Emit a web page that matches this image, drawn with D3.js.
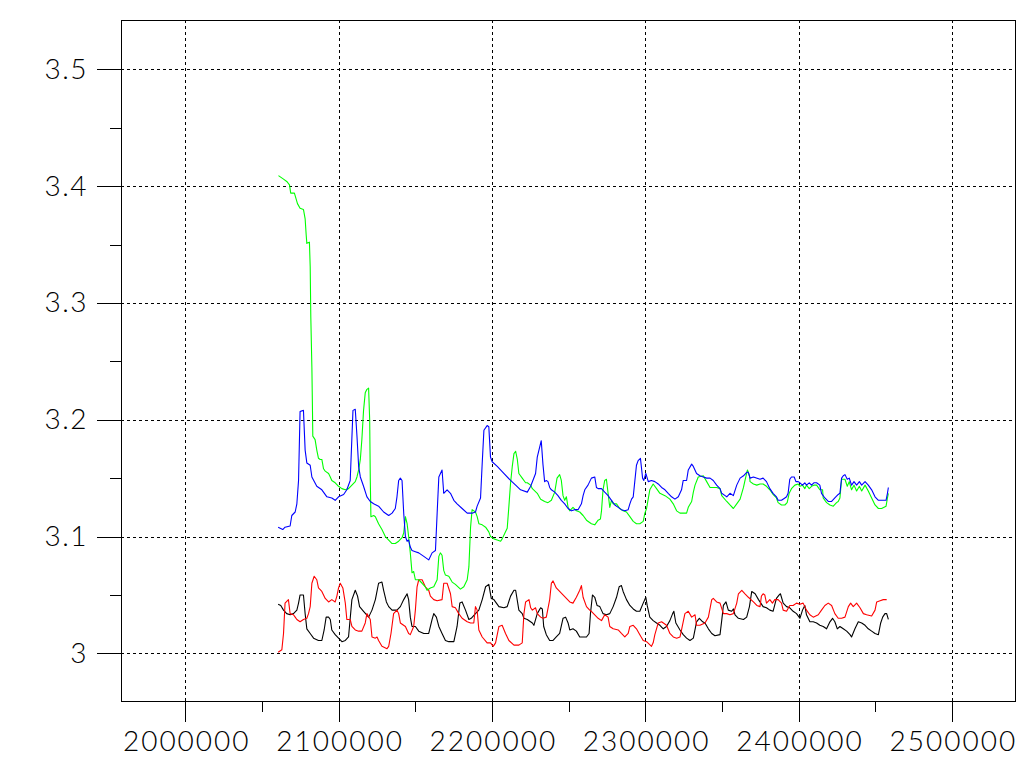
<!DOCTYPE html>
<html>
<head>
<meta charset="utf-8">
<script src="https://cdn.jsdelivr.net/npm/d3@7"></script>
<style>
  html, body { margin: 0; padding: 0; background: #ffffff; }
  svg { display: block; }
  .lbl { font-family: "Lato", "DejaVu Sans", sans-serif; font-weight: 300; font-size: 28px; fill: #000; }
</style>
</head>
<body>
<svg id="chart" width="1035" height="775"></svg>
<script>
// ---------- data ----------
const xMajorTicks = [2000000, 2100000, 2200000, 2300000, 2400000, 2500000];
const xMinorTicks = [2050000, 2150000, 2250000, 2350000, 2450000];
const yMajorTicks = [3.0, 3.1, 3.2, 3.3, 3.4, 3.5];
const yMinorTicks = [3.05, 3.15, 3.25, 3.35, 3.45];
const xTickLabels = ["2000000", "2100000", "2200000", "2300000", "2400000", "2500000"];
const yTickLabels = ["3", "3.1", "3.2", "3.3", "3.4", "3.5"];

const greenData = [
[2060800,3.409],[2064100,3.406],[2066200,3.404],[2068000,3.401],[2068800,3.394],[2071200,3.394],[2072300,3.389],[2073200,3.385],[2074900,3.381],[2077100,3.380],[2078200,3.372],[2078900,3.358],[2079300,3.351],[2081000,3.352],[2081500,3.331],[2081900,3.288],[2082600,3.245],[2083000,3.207],
[2083200,3.186],[2084700,3.183],[2085800,3.174],[2086900,3.167],[2088000,3.166],[2089100,3.166],[2090200,3.158],[2091300,3.156],[2093500,3.154],[2094600,3.151],[2095600,3.148],[2097800,3.146],[2100000,3.143],[2102200,3.141],[2104400,3.140],[2106500,3.141],[2108700,3.144],[2110900,3.147],[2112000,3.151],[2113100,3.157],[2114200,3.166],[2115200,3.183],[2116300,3.208],[2117400,3.223],[2118500,3.226],[2119600,3.227],[2120300,3.200],[2120700,3.148],[2121100,3.117],[2122900,3.118],[2124000,3.117],[2126100,3.111],[2128300,3.106],[2130500,3.100],[2132700,3.097],[2134900,3.094],[2137000,3.094],[2139200,3.096],[2141400,3.099],[2142500,3.103],[2143600,3.117],[2144700,3.111],[2145700,3.100],[2146800,3.086],[2147900,3.069],[2149000,3.070],[2150100,3.063],[2152300,3.063],[2154500,3.060],[2156600,3.057],[2157700,3.054],[2159900,3.056],[2162100,3.057],[2164300,3.063],[2165400,3.083],[2166400,3.086],[2167500,3.084],[2168600,3.071],[2169700,3.067],[2171900,3.066],[2174100,3.061],[2176200,3.059],[2179500,3.055],[2181700,3.057],[2183900,3.063],[2185000,3.074],[2186100,3.108],[2187100,3.123],[2189300,3.121],[2190400,3.117],[2191500,3.111],[2193700,3.110],[2195900,3.108],[2198000,3.104],[2199100,3.100],[2201300,3.098],[2203500,3.097],[2205700,3.096],[2206700,3.098],[2208900,3.104],[2210000,3.107],[2211100,3.126],[2212200,3.146],[2213300,3.160],[2214400,3.171],[2215500,3.173],[2216600,3.166],[2217600,3.154],[2219800,3.150],[2222000,3.146],[2223100,3.146],[2225300,3.144],[2226400,3.141],[2229600,3.137],
[2231800,3.132],[2234400,3.130],[2236600,3.129],[2238800,3.131],[2241000,3.138],[2242500,3.150],[2244200,3.153],[2245300,3.148],[2246400,3.135],[2247500,3.131],[2248600,3.134],[2249700,3.125],[2250800,3.122],[2252900,3.125],[2255100,3.122],[2257300,3.121],[2259500,3.118],[2261700,3.114],[2264900,3.111],[2267100,3.110],[2269300,3.114],[2270800,3.115],[2271500,3.122],[2272500,3.140],[2273600,3.148],[2274700,3.149],[2275800,3.137],[2276900,3.125],[2278000,3.131],[2279100,3.128],[2281300,3.128],[2283400,3.124],[2285600,3.122],[2287800,3.121],[2290000,3.117],[2292200,3.113],[2294300,3.111],[2296500,3.111],[2298700,3.113],[2299800,3.120],[2300900,3.124],[2303000,3.140],[2305200,3.145],[2307400,3.141],[2309600,3.137],[2312900,3.135],[2316100,3.132],[2318300,3.128],[2320500,3.122],[2322700,3.120],[2324800,3.120],[2327000,3.120],[2328100,3.125],[2330300,3.130],[2331400,3.138],[2332500,3.144],[2334600,3.151],[2337900,3.152],[2340100,3.147],[2342300,3.142],[2346600,3.142],[2348800,3.141],[2349900,3.135],[2353200,3.130],[2355300,3.127],[2357500,3.124],[2359700,3.128],[2361900,3.132],[2364100,3.142],[2365100,3.148],[2366700,3.157],[2368000,3.152],[2368400,3.147],[2370600,3.145],[2372800,3.144],[2374900,3.145],
[2376900,3.145],[2379100,3.143],[2381300,3.140],[2383400,3.136],[2385600,3.133],[2386700,3.129],[2388900,3.127],[2391100,3.127],[2392600,3.129],[2393900,3.137],[2395400,3.141],[2397600,3.144],[2399800,3.145],[2400900,3.143],[2402600,3.144],[2404100,3.141],[2405200,3.144],[2407000,3.141],[2408500,3.143],[2410000,3.144],[2411800,3.144],[2413900,3.140],[2415700,3.140],[2416100,3.133],[2418300,3.129],[2420500,3.127],[2422700,3.126],[2424800,3.129],[2425900,3.130],[2427000,3.133],[2428100,3.149],[2429200,3.149],[2430300,3.149],[2431800,3.143],[2433100,3.147],[2434600,3.140],[2436200,3.144],[2437900,3.139],[2439700,3.143],[2441200,3.139],[2443400,3.144],[2445500,3.139],[2447700,3.133],[2449900,3.127],[2452100,3.124],[2454200,3.124],[2457100,3.126],[2458000,3.133],[2458600,3.137]
];

const blueData = [
[2060600,3.108],[2063600,3.106],[2065100,3.108],[2068400,3.109],[2069500,3.118],[2071700,3.121],[2072800,3.128],[2073900,3.148],[2074900,3.207],[2077100,3.208],[2078200,3.174],[2079300,3.163],[2081500,3.161],[2082600,3.151],[2085800,3.143],[2089100,3.140],[2092400,3.134],[2095600,3.133],[2097800,3.131],[2100000,3.134],[2103300,3.136],[2105400,3.140],[2107600,3.148],[2109400,3.208],[2110900,3.209],[2112000,3.186],[2113100,3.160],[2114200,3.151],[2116300,3.143],[2118500,3.134],[2120700,3.130],[2122900,3.128],[2126100,3.126],[2129400,3.121],[2132700,3.118],[2134900,3.120],[2137000,3.124],[2138100,3.134],[2139200,3.148],[2140300,3.150],[2141400,3.148],[2142500,3.120],[2143600,3.100],[2144700,3.096],[2145700,3.097],[2146800,3.091],[2147900,3.088],[2150100,3.087],[2152300,3.086],[2155600,3.083],[2158800,3.080],[2161000,3.086],[2163200,3.088],[2164300,3.120],[2165400,3.151],[2167500,3.157],[2168600,3.137],[2170800,3.140],[2173000,3.137],[2175200,3.131],[2177300,3.128],[2180600,3.124],[2183900,3.120],[2187100,3.120],[2189300,3.121],[2190400,3.126],[2192600,3.133],[2193700,3.163],[2194800,3.191],[2196900,3.195],[2198000,3.194],[2199100,3.168],[2200200,3.164],[2203500,3.160],[2207800,3.154],[2212200,3.148],[2215500,3.144],[2218700,3.140],[2223100,3.138],[2225300,3.143],[2228500,3.154],[2229600,3.168],[2231800,3.180],
[2232200,3.182],[2233300,3.162],[2234400,3.147],[2235500,3.148],[2236600,3.147],[2237700,3.142],[2238800,3.140],[2241000,3.138],[2243100,3.135],[2245300,3.131],[2247500,3.128],[2249700,3.124],[2251900,3.122],[2254000,3.123],[2256200,3.123],[2258400,3.128],[2259500,3.135],[2260600,3.140],[2262700,3.144],[2264900,3.150],[2267100,3.151],[2268200,3.142],[2269300,3.141],[2271500,3.141],[2273600,3.138],[2275800,3.135],[2278000,3.131],[2280200,3.127],[2282400,3.125],[2284500,3.123],[2286700,3.122],[2288900,3.123],[2290000,3.128],[2291100,3.132],[2292200,3.134],[2293200,3.147],[2294300,3.161],[2295400,3.165],[2296900,3.167],[2298300,3.150],[2299100,3.148],[2300400,3.154],[2302000,3.147],[2304100,3.148],[2306300,3.147],[2308500,3.145],[2310700,3.142],[2312900,3.140],[2315000,3.137],[2317200,3.134],[2319400,3.132],[2321600,3.134],[2323700,3.140],[2324800,3.148],[2327000,3.148],[2328100,3.157],[2330300,3.162],[2331400,3.160],[2333500,3.154],[2335700,3.152],[2337900,3.151],[2340100,3.150],[2342300,3.150],[2344400,3.148],[2346600,3.144],[2348800,3.141],[2349900,3.137],[2352100,3.135],[2353200,3.134],[2355300,3.137],[2357500,3.135],[2359700,3.144],[2361900,3.150],[2364100,3.152],[2366200,3.155],[2367300,3.155],[2368400,3.150],[2370600,3.151],[2374900,3.149],
[2376900,3.150],[2379100,3.147],[2381300,3.141],[2383400,3.137],[2385600,3.134],[2386700,3.131],[2388900,3.131],[2391100,3.133],[2392200,3.134],[2393200,3.137],[2394300,3.149],[2395400,3.151],[2397200,3.151],[2398300,3.147],[2399800,3.147],[2400900,3.146],[2402600,3.144],[2404100,3.146],[2405200,3.144],[2407000,3.146],[2408500,3.144],[2410000,3.146],[2411800,3.146],[2413900,3.144],[2415000,3.137],[2417200,3.133],[2419400,3.130],[2421600,3.130],[2423700,3.133],[2425900,3.136],[2427000,3.137],[2428100,3.150],[2429200,3.152],[2430300,3.153],[2431800,3.149],[2433100,3.150],[2434600,3.144],[2436200,3.147],[2437900,3.144],[2439700,3.147],[2441200,3.144],[2443400,3.147],[2445500,3.144],[2447700,3.140],[2449900,3.134],[2452100,3.131],[2454200,3.131],[2457100,3.131],[2458000,3.137],[2458600,3.142]
];

const redData = [
[2060600,3.001],[2063000,3.003],[2064100,3.017],[2065100,3.043],[2067300,3.046],[2068400,3.034],[2070600,3.033],[2071700,3.031],[2072800,3.029],[2074900,3.027],[2077100,3.029],[2079300,3.030],[2080400,3.034],[2081500,3.040],[2082600,3.060],[2084100,3.066],[2085800,3.063],[2086900,3.056],[2089100,3.053],[2091300,3.047],[2093500,3.044],[2095600,3.046],[2097800,3.044],[2098900,3.049],[2100000,3.056],[2101100,3.060],[2102800,3.056],[2104400,3.043],[2105400,3.029],[2107600,3.029],[2108700,3.023],[2110900,3.020],[2113100,3.019],[2115200,3.019],[2117400,3.026],[2118500,3.034],[2120700,3.029],[2121800,3.014],[2124000,3.013],[2125100,3.014],[2126100,3.011],[2128300,3.006],[2131600,3.004],[2132700,3.006],[2134200,3.017],[2135900,3.034],[2138100,3.037],[2139200,3.034],[2140300,3.026],[2143600,3.023],[2145700,3.017],[2146800,3.016],[2149000,3.023],[2150100,3.037],[2151200,3.057],[2152300,3.063],[2154500,3.063],[2156600,3.057],[2158800,3.054],[2159900,3.049],[2162100,3.046],[2164300,3.045],[2167500,3.046],[2168600,3.060],[2170800,3.060],[2173000,3.051],[2174100,3.040],[2176200,3.039],[2178400,3.034],[2180600,3.030],[2183900,3.027],[2186100,3.026],[2188200,3.026],[2189300,3.040],[2190400,3.037],[2191500,3.020],[2193700,3.014],[2196900,3.009],[2199100,3.009],[2200900,3.006],[2202400,3.009],[2204600,3.023],[2206700,3.024],[2208900,3.017],[2211100,3.011],[2214400,3.007],[2217600,3.007],[2219800,3.009],[2220900,3.034],[2222000,3.044],[2224200,3.046],[2225300,3.039],[2226400,3.037],[2228500,3.039],[2229600,3.034],[2231800,3.031],
[2233300,3.030],[2235500,3.031],[2237700,3.046],[2238800,3.060],[2239900,3.062],[2242000,3.056],[2244200,3.053],[2246400,3.050],[2248600,3.047],[2250800,3.044],[2252900,3.043],[2255100,3.048],[2257300,3.054],[2258400,3.058],[2259500,3.048],[2261700,3.040],[2263800,3.037],[2264900,3.036],[2267100,3.033],[2269300,3.030],[2271500,3.028],[2273600,3.033],[2275800,3.031],[2276900,3.023],[2279100,3.021],[2282400,3.020],[2284500,3.017],[2286700,3.014],[2288900,3.017],[2290000,3.023],[2292200,3.024],[2294300,3.021],[2296500,3.016],[2298700,3.011],[2300900,3.010],[2304100,3.006],[2305200,3.009],[2306300,3.016],[2308500,3.026],[2310700,3.027],[2313900,3.024],[2316100,3.017],[2318300,3.014],[2320500,3.013],[2322700,3.014],[2323700,3.020],[2325900,3.034],[2328100,3.036],[2330300,3.031],[2332500,3.033],[2333500,3.024],[2335700,3.024],[2339000,3.026],[2341200,3.031],[2343400,3.046],[2344400,3.047],[2346600,3.044],[2348800,3.043],[2351000,3.034],[2353200,3.034],[2355300,3.033],[2357500,3.034],[2359700,3.043],[2360800,3.051],[2363000,3.054],[2365100,3.051],[2367300,3.048],[2370600,3.044],[2372800,3.041],[2374900,3.040],
[2375800,3.049],[2376900,3.051],[2378000,3.050],[2379100,3.043],[2381300,3.046],[2383000,3.043],[2384500,3.046],[2386700,3.046],[2388900,3.043],[2390000,3.037],[2392200,3.036],[2394300,3.041],[2396500,3.041],[2398700,3.043],[2400900,3.042],[2403000,3.043],[2405200,3.037],[2407400,3.033],[2409600,3.031],[2412900,3.033],[2415000,3.037],[2417200,3.041],[2419400,3.043],[2421600,3.041],[2423700,3.034],[2425900,3.030],[2428100,3.030],[2430300,3.031],[2432500,3.040],[2434000,3.043],[2435700,3.040],[2437900,3.043],[2440100,3.039],[2442300,3.034],[2444400,3.033],[2447700,3.032],[2449900,3.037],[2451000,3.044],[2453200,3.045],[2455300,3.046],[2457500,3.046]
];

const blackData = [
[2060600,3.042],[2062300,3.041],[2064100,3.037],[2066200,3.034],[2068400,3.033],[2070600,3.034],[2072800,3.037],[2073900,3.043],[2074900,3.050],[2077100,3.050],[2078200,3.034],[2079300,3.021],[2081500,3.017],[2083700,3.013],[2086900,3.011],[2089100,3.011],[2090600,3.020],[2091900,3.031],[2093500,3.031],[2094600,3.029],[2095600,3.020],[2097800,3.016],[2100000,3.013],[2102200,3.010],[2104400,3.011],[2106500,3.014],[2108700,3.046],[2110900,3.054],[2112400,3.049],[2113700,3.040],[2116300,3.036],[2119600,3.031],[2121800,3.037],[2124000,3.046],[2126100,3.060],[2128300,3.061],[2129400,3.054],[2131200,3.044],[2132700,3.040],[2134900,3.037],[2138100,3.037],[2140300,3.040],[2142500,3.046],[2144700,3.051],[2145700,3.046],[2146800,3.031],[2147900,3.023],[2150100,3.023],[2152300,3.019],[2155600,3.017],[2158800,3.017],[2161000,3.029],[2162100,3.034],[2163800,3.031],[2165400,3.023],[2167500,3.017],[2169700,3.011],[2171900,3.010],[2175200,3.010],[2177300,3.023],[2179100,3.043],[2180600,3.044],[2182800,3.037],[2185000,3.029],[2186500,3.030],[2189300,3.034],[2191500,3.037],[2193700,3.046],[2195900,3.057],[2198000,3.059],[2199600,3.047],[2201300,3.046],[2204600,3.040],[2207800,3.039],[2210000,3.040],[2212200,3.049],[2214400,3.054],[2215500,3.054],[2217600,3.037],[2219800,3.034],[2220900,3.030],[2223100,3.029],[2226400,3.026],[2227400,3.024],[2229600,3.034],[2231800,3.039],
[2232900,3.038],[2233800,3.023],[2235500,3.016],[2237700,3.011],[2239900,3.011],[2242000,3.014],[2244200,3.017],[2246400,3.030],[2248100,3.031],[2249700,3.026],[2250800,3.020],[2252900,3.021],[2255100,3.019],[2257300,3.014],[2259500,3.014],[2261700,3.014],[2263400,3.017],[2264300,3.034],[2265600,3.050],[2267100,3.048],[2268600,3.041],[2270400,3.040],[2272500,3.034],[2274700,3.033],[2276900,3.034],[2279100,3.040],[2281300,3.048],[2283000,3.057],[2284500,3.058],[2285600,3.053],[2287800,3.046],[2290000,3.041],[2292200,3.038],[2294300,3.036],[2296500,3.036],[2298700,3.043],[2300400,3.048],[2301300,3.041],[2303000,3.031],[2305200,3.028],[2307400,3.026],[2309600,3.024],[2311800,3.021],[2313900,3.023],[2316100,3.028],[2317900,3.034],[2318700,3.036],[2320000,3.026],[2322700,3.020],[2324800,3.016],[2327000,3.013],[2329200,3.011],[2331400,3.013],[2333500,3.027],[2335300,3.030],[2337500,3.027],[2339000,3.026],[2341200,3.021],[2343400,3.017],[2345500,3.015],[2348800,3.016],[2349900,3.028],[2351000,3.041],[2352700,3.044],[2354200,3.037],[2356400,3.036],[2357500,3.038],[2358600,3.033],[2360800,3.030],[2364100,3.029],[2366200,3.031],[2368000,3.040],[2369500,3.053],[2371700,3.051],[2373900,3.046],
[2376900,3.040],[2379100,3.039],[2381300,3.037],[2383400,3.036],[2385600,3.047],[2387400,3.050],[2388200,3.051],[2390000,3.043],[2392200,3.040],[2394300,3.039],[2396500,3.036],[2398700,3.034],[2400900,3.030],[2402600,3.037],[2404100,3.041],[2405200,3.033],[2407400,3.027],[2409600,3.027],[2411800,3.026],[2413900,3.024],[2416100,3.023],[2418300,3.021],[2420500,3.027],[2422200,3.030],[2423700,3.027],[2425300,3.021],[2427000,3.023],[2429200,3.021],[2431400,3.019],[2433600,3.016],[2434600,3.014],[2436800,3.021],[2439000,3.027],[2441200,3.026],[2443400,3.024],[2445500,3.021],[2447700,3.019],[2449900,3.017],[2452100,3.016],[2453600,3.026],[2454900,3.031],[2456400,3.034],[2457500,3.034],[2458600,3.029]
];

// ---------- layout ----------
const plot = { left: 121, right: 1015, top: 20, bottom: 701 };
const svg = d3.select("#chart");
svg.append("rect").attr("width", 1035).attr("height", 775).attr("fill", "#ffffff");

const x = d3.scaleLinear().domain([1958100, 2541200]).range([plot.left, plot.right]);
const y = d3.scaleLinear().domain([2.9592, 3.5422]).range([plot.bottom, plot.top]);

const snap = v => Math.round(v) + 0.5;

// grid
const grid = svg.append("g").attr("stroke", "#000").attr("stroke-width", 1)
  .attr("stroke-dasharray", "3,3").attr("shape-rendering", "crispEdges");
grid.selectAll("line.gx").data(xMajorTicks).join("line")
  .attr("x1", d => snap(x(d))).attr("x2", d => snap(x(d)))
  .attr("y1", plot.top).attr("y2", plot.bottom);
grid.selectAll("line.gy").data(yMajorTicks).join("line")
  .attr("y1", d => snap(y(d))).attr("y2", d => snap(y(d)))
  .attr("x1", plot.left).attr("x2", plot.right);

// series
const line = d3.line().x(d => x(d[0])).y(d => y(d[1]));
const series = [
  { data: blackData, color: "#000000" },
  { data: redData, color: "#ff0000" },
  { data: greenData, color: "#00ff00" },
  { data: blueData, color: "#0000ff" }
];
svg.append("g").selectAll("path").data(series).join("path")
  .attr("d", s => line(s.data))
  .attr("fill", "none")
  .attr("stroke", s => s.color)
  .attr("stroke-width", 1.1)
  .attr("stroke-linejoin", "round");

// frame
svg.append("rect")
  .attr("x", plot.left + 0.5).attr("y", plot.top + 0.5)
  .attr("width", plot.right - plot.left).attr("height", plot.bottom - plot.top)
  .attr("fill", "none").attr("stroke", "#000").attr("stroke-width", 1)
  .attr("shape-rendering", "crispEdges");

// axes
const yAxisMajor = d3.axisLeft(y).tickValues(yMajorTicks).tickSize(25).tickPadding(10)
  .tickFormat((d, i) => yTickLabels[i]);
const gy = svg.append("g").attr("transform", `translate(${plot.left + 0.5},0)`).call(yAxisMajor);
const yAxisMinor = d3.axisLeft(y).tickValues(yMinorTicks).tickSize(12).tickFormat("");
const gy2 = svg.append("g").attr("transform", `translate(${plot.left + 0.5},0)`).call(yAxisMinor);

const xAxisMajor = d3.axisBottom(x).tickValues(xMajorTicks).tickSize(20).tickPadding(10)
  .tickFormat((d, i) => xTickLabels[i]);
const gx = svg.append("g").attr("transform", `translate(0,${plot.bottom + 0.5})`).call(xAxisMajor);
const xAxisMinor = d3.axisBottom(x).tickValues(xMinorTicks).tickSize(10).tickFormat("");
const gx2 = svg.append("g").attr("transform", `translate(0,${plot.bottom + 0.5})`).call(xAxisMinor);

[gy, gy2, gx, gx2].forEach(g => {
  g.select(".domain").remove();
  g.selectAll(".tick line").attr("stroke", "#000").attr("shape-rendering", "crispEdges");
  g.selectAll(".tick text").attr("class", "lbl").attr("font-size", null).attr("font-family", null);
  g.attr("font-size", null).attr("font-family", null);
});
gx.selectAll(".tick text").attr("letter-spacing", "2px").attr("dx", "1px");
gy.selectAll(".tick text").attr("letter-spacing", "1.5px").attr("dx", "1.5px");
</script>
</body>
</html>
